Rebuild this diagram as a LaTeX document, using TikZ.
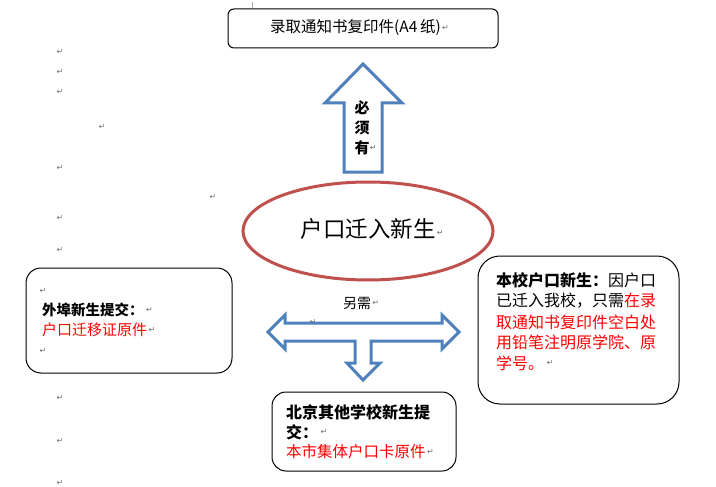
\documentclass[tikz,border=0pt]{standalone}
\usepackage{fontspec}
\setmainfont{Noto Sans CJK SC}
\newfontfamily\dvfont{DejaVu Sans}
\usetikzlibrary{shapes.geometric}
\definecolor{arrblue}{HTML}{4F81BD}
\definecolor{ellred}{HTML}{C0504D}
\definecolor{txtred}{HTML}{FF0000}
\definecolor{markgray}{HTML}{707070}
\newcommand{\pmk}{{\dvfont\fontsize{8}{8}\selectfont\textcolor{markgray}{↵}}}
\newcommand{\fs}[1]{\fontsize{#1}{#1}\selectfont}
\tikzset{
  box/.style={draw=black, line width=1pt},
  bluearrow/.style={draw=arrblue, line width=3pt, line join=miter, fill=white},
  txt/.style={inner sep=0pt, anchor=west},
  mk/.style={inner sep=0pt}
}
\begin{document}
\begin{tikzpicture}[x=1pt,y=-1pt]
\fill[white] (0,0) rectangle (716,487);
\useasboundingbox (0,0) rectangle (716,487);

% top box
\draw[box, rounded corners=6pt] (228,9) rectangle (498,48);
\node[txt] (top) at (270,28) {\fs{15.5}录取通知书复印件(A4\,纸)};
\node[mk, anchor=west] (mtop) at ([xshift=1pt]top.east) {\pmk};
\draw[markgray!60, line width=0.6pt] (252,2) -- (252,8);

% up arrow
\draw[bluearrow] (363,64) -- (402,103) -- (382,103) -- (382,172) -- (344,172) -- (344,103) -- (325,103) -- cycle;
\node[mk] (b1) at (362,108) {\fs{15}\bfseries 必};
\node[mk] (b2) at (362,128) {\fs{15}\bfseries 须};
\node[mk] (b3) at (362,148) {\fs{15}\bfseries 有};
\node[mk, anchor=west] (mb3) at (b3.east) {\pmk};

% ellipse
\node[ellipse, draw=ellred, line width=3pt, minimum width=250pt, minimum height=98pt] (ell) at (368,231) {};
\node[mk] (etxt) at (368,229) {\fs{22.5}户口迁入新生};
\node[mk, anchor=west] (metxt) at ([xshift=1pt,yshift=-4pt]etxt.east) {\pmk};

% T arrow
\draw[bluearrow] (268,332) -- (285,315) -- (285,323) -- (442,323) -- (442,315) -- (459,332) -- (442,349) -- (442,341) -- (371,341) -- (371,363) -- (380,363) -- (363,380) -- (347,363) -- (355,363) -- (355,341) -- (285,341) -- (285,349) -- cycle;
\node[mk] (ling) at (357,303) {\fs{14}另需};
\node[mk, anchor=west] (mling) at ([xshift=1pt]ling.east) {\pmk};
\node[mk] (mt) at (313,322) {\pmk};

% left box
\draw[box, rounded corners=15pt] (26,268) rectangle (232,373);
\node[mk] (ml1) at (43,291) {\pmk};
\node[txt] (l1) at (42,310) {\fs{14.5}\bfseries 外埠新生提交：};
\node[mk, anchor=west] (ml2) at ([xshift=2pt]l1.east) {\pmk};
\node[txt, text=txtred] (l2) at (42,330) {\fs{15}户口迁移证原件};
\node[mk, anchor=west] (ml3) at ([xshift=1pt]l2.east) {\pmk};
\node[mk] (ml4) at (43,351) {\pmk};

% right box
\draw[box, rounded corners=22pt] (478,256) rectangle (679,404);
\node[txt] (r1) at (496,280) {\fs{16}\textbf{本校户口新生：}因户口};
\node[txt] (r2) at (496,301) {\fs{16}已迁入我校，只需\textcolor{txtred}{在录}};
\node[txt, text=txtred] (r3) at (496,322) {\fs{16}取通知书复印件空白处};
\node[txt, text=txtred] (r4) at (496,342) {\fs{16}用铅笔注明原学院、原};
\node[txt, text=txtred] (r5) at (496,363) {\fs{16}学号。};
\node[mk, anchor=west] (mr5) at ([xshift=2pt]r5.east) {\pmk};

% bottom box
\draw[box, rounded corners=14pt] (272,392) rectangle (456,471);
\node[txt] (d1) at (286,412) {\fs{16}\bfseries 北京其他学校新生提};
\node[txt] (d2) at (286,432) {\fs{16}\bfseries 交：};
\node[mk, anchor=west] (md2) at ([xshift=2pt]d2.east) {\pmk};
\node[txt, text=txtred] (d3) at (286,452) {\fs{15.5}本市集体户口卡原件};
\node[mk, anchor=west] (md3) at ([xshift=1pt]d3.east) {\pmk};

% scattered paragraph marks
\node[mk] (s1) at (60,52) {\pmk};
\node[mk] (s2) at (60,72) {\pmk};
\node[mk] (s3) at (60,92) {\pmk};
\node[mk] (s4) at (102,127) {\pmk};
\node[mk] (s5) at (60,168) {\pmk};
\node[mk] (s6) at (213,197) {\pmk};
\node[mk] (s7) at (60,218) {\pmk};
\node[mk] (s8) at (60,250) {\pmk};
\node[mk] (s9) at (60,398) {\pmk};
\node[mk] (s10) at (60,441) {\pmk};
\node[mk] (s11) at (60,483) {\pmk};
\end{tikzpicture}
\end{document}
